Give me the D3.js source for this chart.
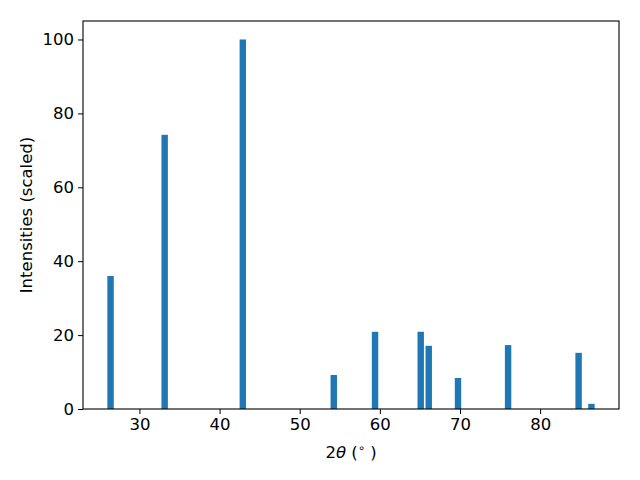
<!DOCTYPE html>
<html>
<head>
<meta charset="utf-8">
<script src="https://cdn.jsdelivr.net/npm/d3@7"></script>
<style>
	body { margin: 0; background: #fff; }
	text { font-family: "DejaVu Sans", sans-serif; }
</style>
</head>
<body>
<script>
// peak positions (2 theta, degrees) and scaled intensities
var peaks = [26.4, 33.15, 42.9, 54.25, 59.4, 65.1, 66.1, 69.75, 76.0, 84.8, 86.4];
var intensities = [36.0, 74.2, 100, 9.2, 20.9, 20.9, 17.1, 8.4, 17.3, 15.2, 1.4];
var xTicks = [30, 40, 50, 60, 70, 80];
var yTicks = [0, 20, 40, 60, 80, 100];

var width = 640,
	height = 480,
	margin = { left: 83, right: 21, top: 21, bottom: 71 };

var svg = d3.select("body")
	.append("svg")
	.attr("width", width)
	.attr("height", height);

// scales, padded like matplotlib does (5% around the bars)
var x = d3.scaleLinear()
	.domain([22.96, 89.84])
	.range([margin.left, width - margin.right]);

var y = d3.scaleLinear()
	.domain([0, 105])
	.range([height - margin.bottom, margin.top]);

var barWidth = 0.8;

// bars
svg.append("g")
	.selectAll("rect")
	.data(peaks)
	.enter()
	.append("rect")
	.attr("x", function(d) { return x(d - barWidth / 2); })
	.attr("width", function(d) { return x(d + barWidth / 2) - x(d - barWidth / 2); })
	.attr("y", function(d, i) { return y(intensities[i]); })
	.attr("height", function(d, i) { return y(0) - y(intensities[i]); })
	.style("fill", "#1f77b4");

// axes
var xAxis = svg.append("g")
	.attr("transform", "translate(0," + y(0) + ")")
	.call(d3.axisBottom(x).tickValues(xTicks).tickSize(5).tickPadding(4));

var yAxis = svg.append("g")
	.attr("transform", "translate(" + x.range()[0] + ",0)")
	.call(d3.axisLeft(y).tickValues(yTicks).tickSize(5).tickPadding(4));

[xAxis, yAxis].forEach(function(ax) {
	ax.select(".domain").remove();
	ax.selectAll("text")
		.style("font-size", "16.5px")
		.style("fill", "#000");
	ax.selectAll("line").style("stroke", "#000");
});

// frame around the plot area
svg.append("rect")
	.attr("x", x.range()[0])
	.attr("y", y.range()[1])
	.attr("width", x.range()[1] - x.range()[0])
	.attr("height", y.range()[0] - y.range()[1])
	.style("fill", "none")
	.style("stroke", "#000")
	.style("stroke-width", 1.1);

// axis labels
var xLabel = svg.append("text")
	.attr("x", (x.range()[0] + x.range()[1]) / 2)
	.attr("y", 458)
	.attr("text-anchor", "middle")
	.style("font-size", "16.5px");
xLabel.append("tspan").text("2");
xLabel.append("tspan").style("font-style", "italic").text("θ");
xLabel.append("tspan").text(" (");
xLabel.append("tspan").attr("dy", -6).style("font-size", "11.5px").text("∘");
xLabel.append("tspan").attr("dy", 6).text(" )");

svg.append("text")
	.attr("transform", "translate(32," + (y.range()[0] + y.range()[1]) / 2 + ") rotate(-90)")
	.attr("text-anchor", "middle")
	.style("font-size", "16.5px")
	.text("Intensities (scaled)");
</script>
</body>
</html>
